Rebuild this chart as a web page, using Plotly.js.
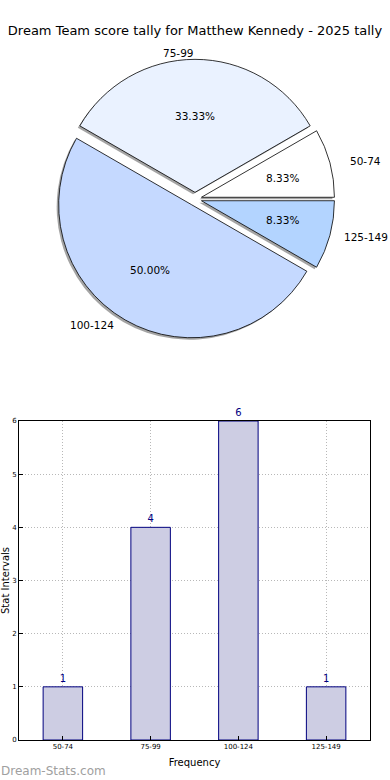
<!DOCTYPE html>
<html>
<head>
<meta charset="utf-8">
<script src="https://cdn.plot.ly/plotly-3.0.1.min.js"></script>
<style>html,body{margin:0;padding:0;background:#fff;}#chart{width:390px;height:780px;}</style>
</head>
<body>
<div id="chart"></div>
<script>
const categories = ["50-74", "75-99", "100-124", "125-149"];
const counts = [1, 4, 6, 1];
const sliceColors = ["#ffffff", "#eaf2ff", "#c5d9ff", "#b3d4ff"];
const titleText = "Dream Team score tally for Matthew Kennedy - 2025 tally";
const xTitle = "Frequency";
const yTitle = "Stat Intervals";
const watermark = "Dream-Stats.com";

const W = 390, H = 780;
const pull = 0.05;
const cx = 195, cy = 199, r = 133;      // pie centre / radius in px
const rx = 139, ry = 127;               // text placement radii (px)
const half = r * (1 + pull);
function dom(dx, dy) {
  return {
    x: [(cx - half + dx) / W, (cx + half + dx) / W],
    y: [(H - cy - half - dy) / H, (H - cy + half - dy) / H]
  };
}
const font = "DejaVu Sans, sans-serif";
const pieFontSize = 10.5;
const common = {
  labels: categories, values: counts, type: "pie", sort: false,
  direction: "counterclockwise", rotation: 60, pull: pull,
  hoverinfo: "skip", showlegend: false, textinfo: "none"
};
const shadow = Object.assign({}, common, {
  domain: dom(-2, 2),
  marker: {colors: categories.map(() => "rgba(90,90,90,0.55)"), line: {width: 0}}
});
const mainPie = Object.assign({}, common, {
  domain: dom(0, 0),
  marker: {colors: sliceColors, line: {color: "#000", width: 0.8}}
});
const bars = {
  type: "bar", x: categories, y: counts, width: 0.45,
  xaxis: "x", yaxis: "y",
  marker: {color: "#cdcde3", line: {color: "#00007f", width: 1}},
  text: counts.map(String), textposition: "outside", cliponaxis: false,
  textfont: {family: font, size: 10, color: "#00007f"},
  hoverinfo: "skip", showlegend: false
};

// pie text (labels outside, percentages inside), placed from the data angles
const total = counts.reduce((a, b) => a + b, 0);
const pieAnn = [];
let start = 0;
counts.forEach((v, i) => {
  const frac = v / total;
  const mid = (start + frac / 2) * 2 * Math.PI;
  start += frac;
  const c = Math.cos(mid), s = Math.sin(mid);
  const ox = cx + pull * rx * c, oy = cy - pull * ry * s;
  let lx = ox + 1.1 * rx * c;
  const ly = oy - 1.1 * ry * s;
  const leftAnchor = c > 1e-9;
  if (leftAnchor) {
    const estW = categories[i].length * 0.62 * pieFontSize;
    if (lx + estW > W - 1) lx = W - 1 - estW;   // keep the label on the page
  }
  const px = ox + 0.6 * rx * c, py = oy - 0.6 * ry * s;
  pieAnn.push({
    text: categories[i], xref: "paper", yref: "paper", x: lx / W, y: 1 - ly / H,
    xanchor: leftAnchor ? "left" : "right", yanchor: "middle", showarrow: false, borderpad: 0,
    font: {family: font, size: pieFontSize, color: "#000"}
  });
  pieAnn.push({
    text: (frac * 100).toFixed(2) + "%", xref: "paper", yref: "paper", x: px / W, y: 1 - py / H,
    xanchor: "center", yanchor: "middle", showarrow: false, borderpad: 0,
    font: {family: font, size: pieFontSize, color: "#000"}
  });
});

const layout = {
  width: W, height: H,
  margin: {l: 0, r: 0, t: 0, b: 0},
  paper_bgcolor: "#fff", plot_bgcolor: "#fff",
  font: {family: font, color: "#000"},
  title: {text: titleText, x: 0.5, xanchor: "center", y: 1 - 30 / H, yanchor: "middle",
          font: {family: font, size: 13, color: "#000"}},
  xaxis: {
    domain: [19 / W, 370 / W], anchor: "y", range: [-0.5, 3.5], type: "category",
    showline: true, linecolor: "#000", linewidth: 1, mirror: true,
    showgrid: true, gridcolor: "#b8b8b8", griddash: "1px,2px", gridwidth: 1,
    ticks: "inside", ticklen: 4, tickcolor: "#000",
    tickfont: {family: font, size: 7, color: "#000"},
    title: {text: xTitle, font: {family: font, size: 10, color: "#000"}, standoff: 8},
    zeroline: false, fixedrange: true
  },
  yaxis: {
    domain: [40 / H, 359 / H], anchor: "x", range: [0, 6], dtick: 1,
    showline: true, linecolor: "#000", linewidth: 1, mirror: true,
    showgrid: true, gridcolor: "#b8b8b8", griddash: "1px,2px", gridwidth: 1,
    ticks: "inside", ticklen: 4, tickcolor: "#000",
    tickfont: {family: font, size: 7, color: "#000"},
    title: {text: yTitle, font: {family: font, size: 10, color: "#000"}, standoff: 0},
    zeroline: false, fixedrange: true
  },
  annotations: pieAnn.concat([{
    text: watermark, xref: "paper", yref: "paper", x: 0, y: 9 / H,
    xanchor: "left", yanchor: "middle", showarrow: false, borderpad: 0,
    font: {family: font, size: 12, color: "#a0a0a0"}
  }])
};
Plotly.newPlot("chart", [shadow, mainPie, bars], layout, {staticPlot: true});
</script>
</body>
</html>
